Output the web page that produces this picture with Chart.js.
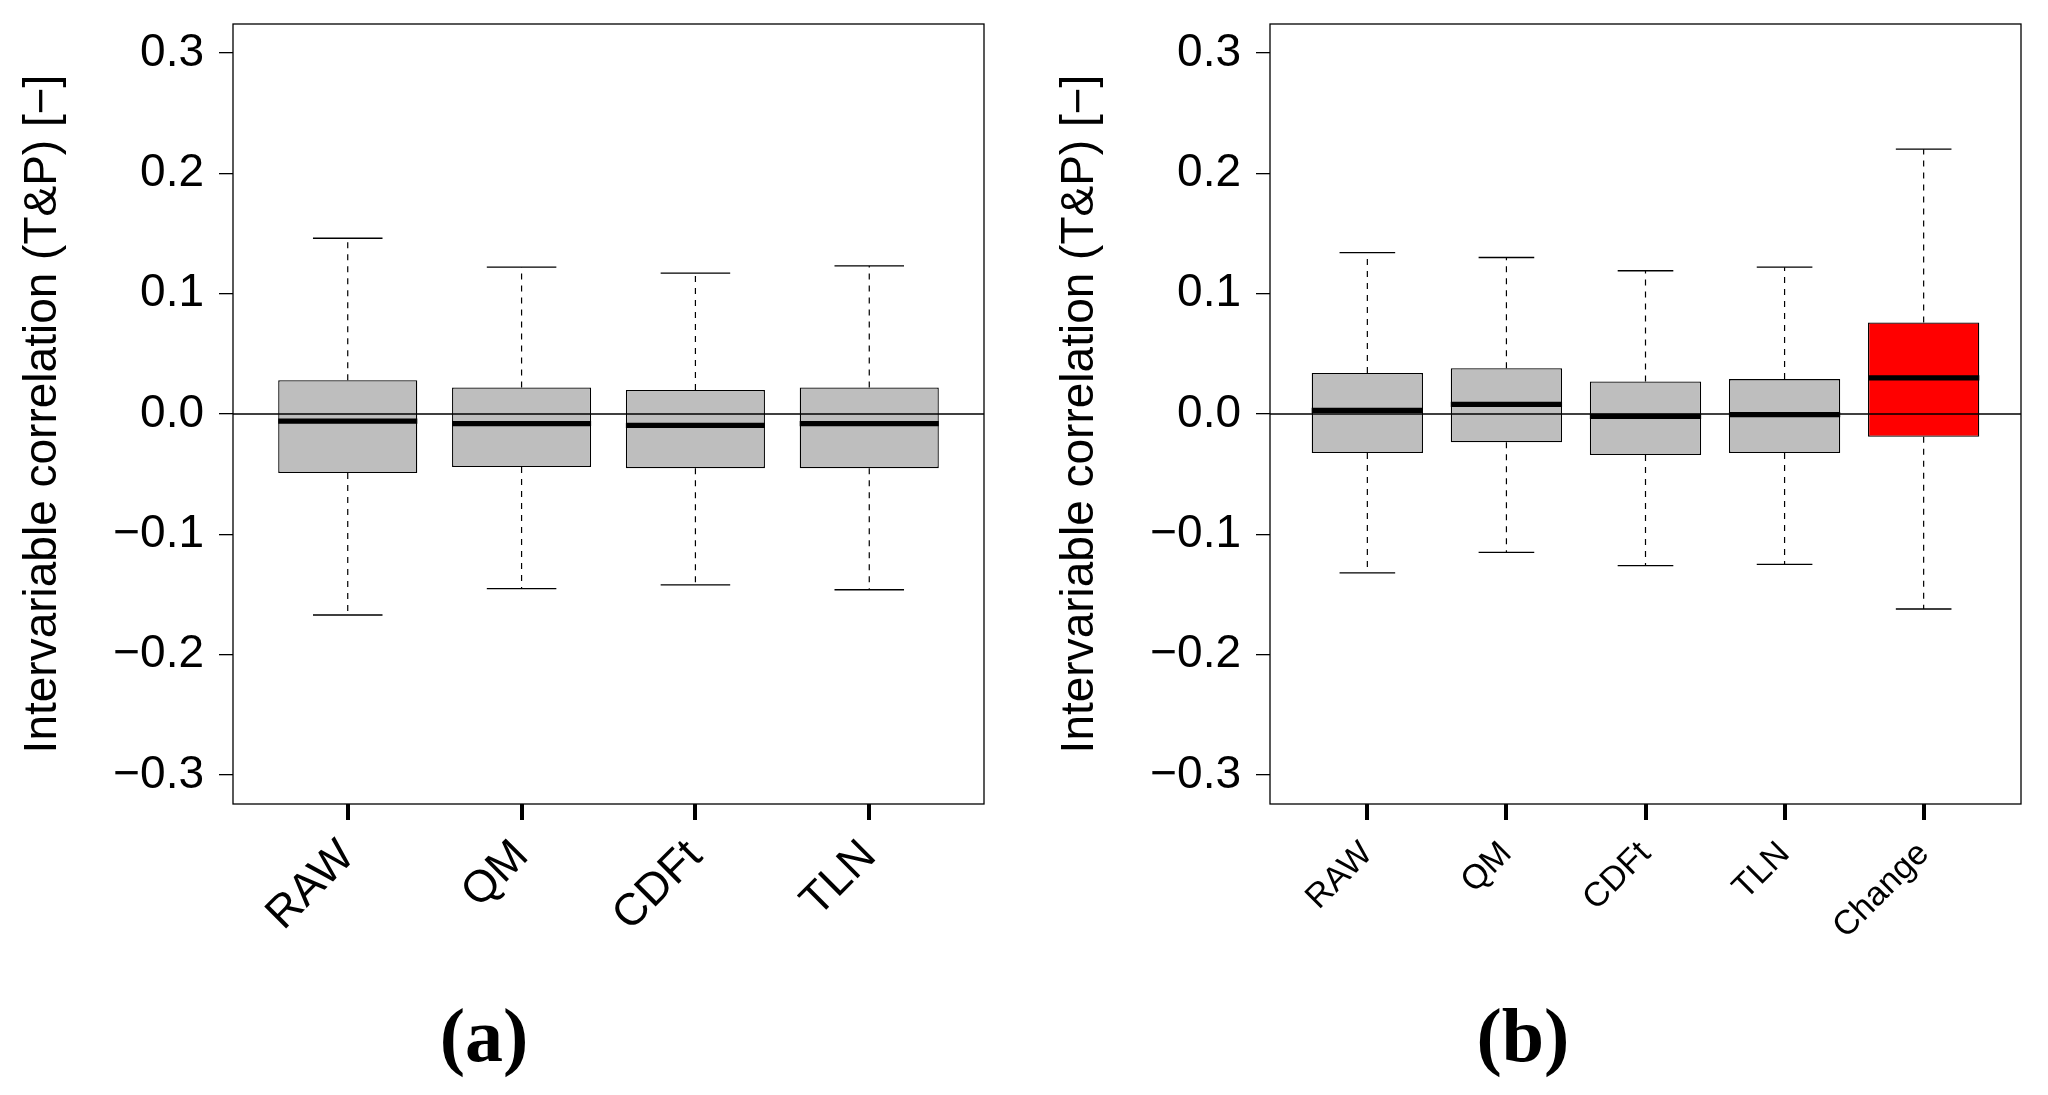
<!DOCTYPE html>
<html>
<head>
<meta charset="utf-8">
<script src="https://cdn.jsdelivr.net/npm/chart.js@4"></script>
<style>
  body { margin: 0; background: #fff; }
  #page { position: relative; width: 2048px; height: 1095px; overflow: hidden; }
  canvas { position: absolute; top: 0; }
  .cap { position: absolute; top: 997px; width: 200px; text-align: center;
         font-family: 'Liberation Serif', 'Times New Roman', serif; font-weight: bold;
         font-size: 76px; line-height: 76px; color: #000; }
</style>
</head>
<body>
<div id="page">
  <canvas id="chartA" width="1024" height="1095" style="left:0"></canvas>
  <canvas id="chartB" width="1024" height="1095" style="left:1024px"></canvas>
  <div class="cap" style="left:384px">(a)</div>
  <div class="cap" style="left:1423px">(b)</div>
</div>
<script>
// panel (a)
const catsA = ['RAW', 'QM', 'CDFt', 'TLN'];
const lowA = [-0.167, -0.145, -0.142, -0.146];
const q1A = [-0.049, -0.044, -0.045, -0.045];
const medA = [-0.006, -0.008, -0.0095, -0.008];
const q3A = [0.028, 0.022, 0.020, 0.022];
const highA = [0.146, 0.122, 0.117, 0.123];

// panel (b)
const catsB = ['RAW', 'QM', 'CDFt', 'TLN', 'Change'];
const lowB = [-0.132, -0.115, -0.126, -0.125, -0.162];
const q1B = [-0.0325, -0.0235, -0.034, -0.0325, -0.019];
const medB = [0.003, 0.008, -0.002, -0.0005, 0.030];
const q3B = [0.034, 0.038, 0.027, 0.029, 0.076];
const highB = [0.134, 0.130, 0.119, 0.122, 0.220];

const yTicks = [-0.3, -0.2, -0.1, 0.0, 0.1, 0.2, 0.3];
const yTitle = 'Intervariable correlation (T&P) [\u2212]';

const font = "'Liberation Sans', Arial, sans-serif";

// draws the box around the plot region
const framePlugin = {
    id: 'frame',
    afterDraw(chart) {
        const a = chart.chartArea;
        const ctx = chart.ctx;
        ctx.save();
        ctx.strokeStyle = '#000';
        ctx.lineWidth = 1.3;
        ctx.strokeRect(a.left, a.top, a.right - a.left, a.bottom - a.top);
        ctx.restore();
    }
};

function makeChart(id, cats, low, q1, med, q3, high, colors, o) {
    const n = cats.length;
    const xMin = -0.5 - 0.04 * n;
    const xMax = n - 0.5 + 0.04 * n;

    const whiskers = [], stapleHi = [], stapleLo = [], medians = [];
    cats.forEach((c, i) => {
        whiskers.push({x: i, y: q3[i]}, {x: i, y: high[i]}, {x: i, y: null},
                      {x: i, y: q1[i]}, {x: i, y: low[i]}, {x: i, y: null});
        stapleHi.push({x: i - 0.2, y: high[i]}, {x: i + 0.2, y: high[i]}, {x: i + 0.2, y: null});
        stapleLo.push({x: i - 0.2, y: low[i]}, {x: i + 0.2, y: low[i]}, {x: i + 0.2, y: null});
        medians.push({x: i - 0.4, y: med[i]}, {x: i + 0.4, y: med[i]}, {x: i + 0.4, y: null});
    });

    const lineBase = {type: 'line', pointRadius: 0, fill: false, tension: 0, spanGaps: false, borderColor: '#000'};

    return new Chart(document.getElementById(id), {
        type: 'bar',
        data: {
            datasets: [
                {
                    label: 'box',
                    data: cats.map((c, i) => ({x: i, y: [q1[i], q3[i]]})),
                    backgroundColor: colors,
                    borderColor: '#000',
                    borderWidth: 1.3,
                    borderSkipped: false,
                    barPercentage: 0.8,
                    categoryPercentage: 1.0,
                    order: 3
                },
                Object.assign({}, lineBase, {data: whiskers, borderWidth: 1.2, borderDash: [6, 6], order: 5}),
                Object.assign({}, lineBase, {data: stapleHi, borderWidth: 1.3, order: 4}),
                Object.assign({}, lineBase, {data: stapleLo, borderWidth: 1.3, order: 4}),
                Object.assign({}, lineBase, {data: [{x: xMin, y: 0}, {x: xMax, y: 0}], borderWidth: 1.3, order: 2}),
                Object.assign({}, lineBase, {data: medians, borderWidth: 5.3, borderCapStyle: 'butt', order: 1})
            ]
        },
        options: {
            responsive: false,
            animation: false,
            devicePixelRatio: 1,
            events: [],
            layout: {padding: {left: 0, right: o.padRight, top: 24, bottom: 0}},
            plugins: {legend: {display: false}, tooltip: {enabled: false}},
            scales: {
                x: {
                    type: 'linear',
                    min: xMin,
                    max: xMax,
                    offset: false,
                    afterBuildTicks: (s) => { s.ticks = cats.map((c, i) => ({value: i})); },
                    afterFit: (s) => {
                        s.height = 291;
                        s.paddingLeft = 0;
                        s.paddingRight = 0;
                    },
                    grid: {display: true, drawOnChartArea: false, offset: false, tickLength: 16, lineWidth: 4, color: '#000'},
                    border: {display: false},
                    ticks: {
                        autoSkip: false,
                        minRotation: 45,
                        maxRotation: 45,
                        padding: o.xPad,
                        color: '#000',
                        font: {family: font, size: o.xFont},
                        callback: (v) => cats[v]
                    }
                },
                y: {
                    type: 'linear',
                    min: -0.324,
                    max: 0.324,
                    afterBuildTicks: (s) => { s.ticks = yTicks.map((v) => ({value: v})); },
                    afterFit: (s) => {
                        s.width = o.yWidth;
                        s.paddingTop = 0;
                        s.paddingBottom = 0;
                    },
                    grid: {display: true, drawOnChartArea: false, tickLength: 14, lineWidth: 1.3, color: '#000'},
                    border: {display: false},
                    ticks: {
                        padding: 15,
                        color: '#000',
                        font: {family: font, size: 46, lineHeight: 1},
                        callback: (v) => (v < -1e-9 ? '\u2212' + Math.abs(v).toFixed(1) : Math.abs(v).toFixed(1))
                    },
                    title: {
                        display: true,
                        text: yTitle,
                        color: '#000',
                        font: {family: font, size: 46},
                        padding: {top: o.titlePad, bottom: 0}
                    }
                }
            }
        },
        plugins: [framePlugin]
    });
}

makeChart('chartA', catsA, lowA, q1A, medA, q3A, highA,
    catsA.map(() => '#BEBEBE'),
    {padRight: 40, yWidth: 233, xFont: 45, xPad: 10, titlePad: 16});

makeChart('chartB', catsB, lowB, q1B, medB, q3B, highB,
    ['#BEBEBE', '#BEBEBE', '#BEBEBE', '#BEBEBE', '#FF0000'],
    {padRight: 27, yWidth: 246, xFont: 34, xPad: 14, titlePad: 29});
</script>
</body>
</html>
